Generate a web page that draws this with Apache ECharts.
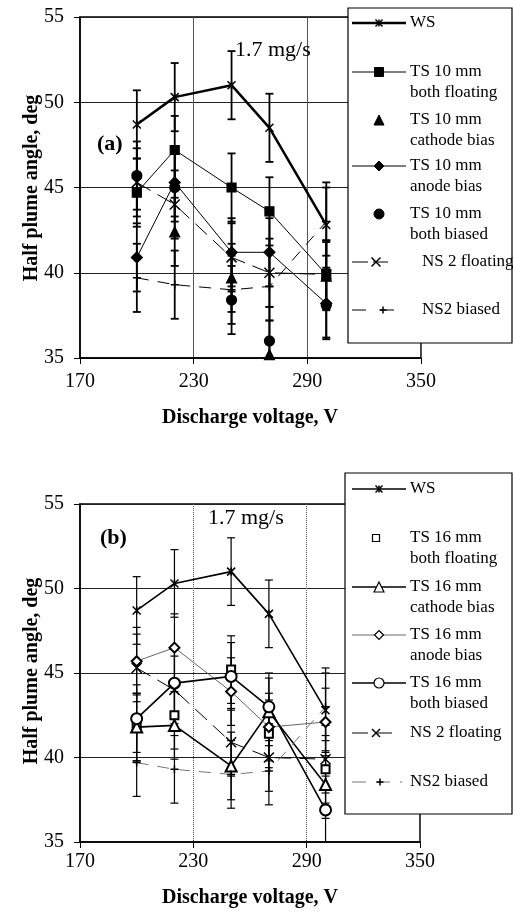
<!DOCTYPE html>
<html>
<head>
<meta charset="utf-8">
<script src="https://cdn.jsdelivr.net/npm/echarts@6/dist/echarts.min.js"></script>
<style>
  html, body { margin: 0; background: #fff; }
  #chart { width: 513px; height: 919px; }
</style>
</head>
<body>
<div id="chart"></div>
<script>
// discharge voltage, V
const voltage = [200, 220, 250, 270, 300];
const xTicks = [170, 230, 290, 350];
const yTicks = [35, 40, 45, 50, 55];

// half plume angle, deg -- shared by both panels
const wsAngle = [48.7, 50.3, 51.0, 48.5, 42.8];
const ns2Floating = [45.3, 44.0, 40.9, 40.0, 39.9];
const ns2Biased = [39.7, 39.3, 39.0, 39.2, 43.0];

// panel (a): TS 10 mm
const ts10Floating = [44.7, 47.2, 45.0, 43.6, 39.9];
const ts10Cathode = [null, 42.4, 39.7, 35.2, 39.8];
const ts10Anode = [40.9, 45.3, 41.2, 41.2, 38.2];
const ts10Biased = [45.7, 45.0, 38.4, 36.0, 38.1];

// panel (b): TS 16 mm
const ts16Floating = [41.8, 42.5, 45.2, 41.4, 39.3];
const ts16Cathode = [41.8, 41.9, 39.5, 42.7, 38.4];
const ts16Anode = [45.7, 46.5, 43.9, 41.8, 42.1];
const ts16Biased = [42.3, 44.4, 44.8, 43.0, 36.9];

// error bar half widths, deg
const wsErr = [2, 2, 2, 2, 2.5];
const stdErr = [2, 2, 2, 2, 2];

const FONT = '"Liberation Serif", "Times New Roman", serif';
const STAR = 'path://M0,0L10,10M10,0L0,10M5,0L5,10';
const CROSS = 'path://M0,0L10,10M10,0L0,10';
const PLUS = 'path://M5,0L5,10M0,5L10,5';

// series styles per panel
const specsA = [
  { name: 'WS', values: wsAngle, err: wsErr, symbol: STAR, size: 8, line: { width: 2.5 } },
  { name: 'TS 10 mm both floating', values: ts10Floating, err: stdErr, symbol: 'rect', size: 9, line: { width: 1 } },
  { name: 'TS 10 mm cathode bias', values: ts10Cathode, err: stdErr, symbol: 'triangle', size: 10, line: null },
  { name: 'TS 10 mm anode bias', values: ts10Anode, err: stdErr, symbol: 'diamond', size: 11, line: { width: 1 } },
  { name: 'TS 10 mm both biased', values: ts10Biased, err: stdErr, symbol: 'circle', size: 10, line: null },
  { name: 'NS 2 floating', values: ns2Floating, err: stdErr, symbol: CROSS, size: 10, line: { width: 1, type: [16, 8] } },
  { name: 'NS2 biased', values: ns2Biased, err: stdErr, symbol: PLUS, size: 8, line: { width: 1, type: [12, 9] } }
];
const specsB = [
  { name: 'WS', values: wsAngle, err: wsErr, symbol: STAR, size: 8, line: { width: 1.6 } },
  { name: 'TS 16 mm both floating', values: ts16Floating, err: stdErr, symbol: 'emptyRect', size: 8, line: null },
  { name: 'TS 16 mm cathode bias', values: ts16Cathode, err: stdErr, symbol: 'emptyTriangle', size: 11, line: { width: 1.6 } },
  { name: 'TS 16 mm anode bias', values: ts16Anode, err: stdErr, symbol: 'emptyDiamond', size: 10, line: { width: 1, color: '#666' } },
  { name: 'TS 16 mm both biased', values: ts16Biased, err: stdErr, symbol: 'emptyCircle', size: 11, line: { width: 1.6 } },
  { name: 'NS 2 floating', values: ns2Floating, err: stdErr, symbol: CROSS, size: 10, line: { width: 1, type: [16, 8] } },
  { name: 'NS2 biased', values: ns2Biased, err: stdErr, symbol: PLUS, size: 8, line: { width: 1, color: '#777', type: [12, 9] } }
];

// error bar with caps
function errorBar(width) {
  return function (params, api) {
    const x = api.value(0);
    const lo = api.coord([x, api.value(1)]);
    const hi = api.coord([x, api.value(2)]);
    const style = { stroke: '#000', lineWidth: width };
    const c = 4;
    return {
      type: 'group',
      children: [
        { type: 'line', shape: { x1: lo[0], y1: lo[1], x2: hi[0], y2: hi[1] }, style },
        { type: 'line', shape: { x1: lo[0] - c, y1: lo[1], x2: lo[0] + c, y2: lo[1] }, style },
        { type: 'line', shape: { x1: hi[0] - c, y1: hi[1], x2: hi[0] + c, y2: hi[1] }, style }
      ]
    };
  };
}

function panelSeries(specs, gi) {
  const out = [];
  specs.forEach(sp => {
    const pts = voltage.map((v, i) => [v, sp.values[i], sp.err[i]]).filter(p => p[1] != null);
    out.push({
      type: 'custom',
      name: sp.name + ' err',
      xAxisIndex: gi,
      yAxisIndex: gi,
      clip: true,
      silent: true,
      z: 1,
      renderItem: errorBar(gi === 0 ? 1.8 : 1.2),
      data: pts.map(p => [p[0], p[1] - p[2], p[1] + p[2]])
    });
    const pathSym = sp.symbol.indexOf('path://') === 0;
    out.push({
      type: 'line',
      name: sp.name,
      xAxisIndex: gi,
      yAxisIndex: gi,
      z: 3,
      data: pts.map(p => [p[0], p[1]]),
      symbol: sp.symbol,
      symbolSize: sp.size,
      showAllSymbol: true,
      animation: false,
      lineStyle: sp.line
        ? { width: sp.line.width, color: sp.line.color || '#000', type: sp.line.type || 'solid' }
        : { opacity: 0 },
      itemStyle: pathSym
        ? { color: '#000', borderColor: '#000', borderWidth: 1.5 }
        : { color: '#000', borderColor: '#000', borderWidth: 1.2 }
    });
  });
  return out;
}

function xAxisFor(gi, margin, splitType) {
  return {
    type: 'value', gridIndex: gi,
    min: xTicks[0], max: xTicks[xTicks.length - 1], interval: xTicks[1] - xTicks[0],
    axisLine: { show: true, lineStyle: { color: '#000', width: 1.5 } },
    axisTick: { show: true, length: 6, lineStyle: { color: '#000' } },
    axisLabel: { color: '#000', fontFamily: FONT, fontSize: 20, margin: margin },
    splitLine: { show: true, lineStyle: { color: '#555', width: 1, type: splitType } }
  };
}
function yAxisFor(gi) {
  return {
    type: 'value', gridIndex: gi,
    min: yTicks[0], max: yTicks[yTicks.length - 1], interval: yTicks[1] - yTicks[0],
    axisLine: { show: true, lineStyle: { color: '#000', width: 1.5 } },
    axisTick: { show: true, length: 6, lineStyle: { color: '#000' } },
    axisLabel: { color: '#000', fontFamily: FONT, fontSize: 20, margin: 16 },
    splitLine: { show: true, lineStyle: { color: '#222', width: 1 } }
  };
}

// legend glyphs drawn as graphics
function glyph(sym, cx, cy, s, open) {
  const h = s / 2;
  const style = { fill: open ? '#fff' : '#000', stroke: '#000', lineWidth: open ? 1.2 : 1 };
  const ls = { stroke: '#000', lineWidth: 1.5 };
  if (sym === 'rect') return [{ type: 'rect', shape: { x: cx - h, y: cy - h, width: s, height: s }, style }];
  if (sym === 'triangle') return [{ type: 'polygon', shape: { points: [[cx, cy - h], [cx + h, cy + h], [cx - h, cy + h]] }, style }];
  if (sym === 'diamond') return [{ type: 'polygon', shape: { points: [[cx, cy - h], [cx + h, cy], [cx, cy + h], [cx - h, cy]] }, style }];
  if (sym === 'circle') return [{ type: 'circle', shape: { cx, cy, r: h }, style }];
  const lines = [];
  if (sym === 'cross' || sym === 'star') {
    lines.push([cx - h, cy - h, cx + h, cy + h], [cx + h, cy - h, cx - h, cy + h]);
  }
  if (sym === 'plus' || sym === 'star') lines.push([cx, cy - h, cx, cy + h]);
  if (sym === 'plus') lines.push([cx - h, cy, cx + h, cy]);
  return lines.map(l => ({ type: 'line', shape: { x1: l[0], y1: l[1], x2: l[2], y2: l[3] }, style: ls }));
}

function legendBlock(box, rows) {
  const els = [{ type: 'rect', shape: box, style: { fill: '#fff', stroke: '#000', lineWidth: 1.2 } }];
  rows.forEach(r => {
    if (r.line) {
      els.push({
        type: 'line', shape: { x1: 352, y1: r.y, x2: r.lx || 406, y2: r.y },
        style: { stroke: r.line.color || '#000', lineWidth: r.line.width, lineDash: r.line.dash || null }
      });
    }
    glyph(r.sym, r.mx || 379, r.y, r.size, r.open).forEach(g => els.push(g));
    r.text.forEach((t, k) => {
      els.push({
        type: 'text', x: r.tx || 410, y: r.y + k * 21,
        style: { text: t, font: '17px ' + FONT, fill: '#000', verticalAlign: 'middle' }
      });
    });
  });
  return els.map(e => Object.assign({ z: 100 }, e));
}

const legendA = legendBlock({ x: 348, y: 8, width: 164, height: 335 }, [
  { y: 23, text: ['WS'], sym: 'star', size: 7, line: { width: 2.5 } },
  { y: 72, text: ['TS 10 mm', 'both floating'], sym: 'rect', size: 9, line: { width: 1 } },
  { y: 120, text: ['TS 10 mm', 'cathode bias'], sym: 'triangle', size: 10 },
  { y: 166, text: ['TS 10 mm', 'anode bias'], sym: 'diamond', size: 10, line: { width: 1 } },
  { y: 214, text: ['TS 10 mm', 'both biased'], sym: 'circle', size: 10 },
  { y: 262, text: ['NS 2 floating'], sym: 'cross', size: 9, mx: 376, tx: 422, lx: 388, line: { width: 1, dash: [16, 5] } },
  { y: 310, text: ['NS2 biased'], sym: 'plus', size: 7, mx: 383, tx: 422, lx: 404, line: { width: 1, dash: [14, 14] } }
]);
const legendB = legendBlock({ x: 345, y: 473, width: 167, height: 341 }, [
  { y: 489, text: ['WS'], sym: 'star', size: 7, line: { width: 1.6 } },
  { y: 538, text: ['TS 16 mm', 'both floating'], sym: 'rect', size: 7, open: true, mx: 376 },
  { y: 587, text: ['TS 16 mm', 'cathode bias'], sym: 'triangle', size: 10, open: true, line: { width: 1.6 } },
  { y: 635, text: ['TS 16 mm', 'anode bias'], sym: 'diamond', size: 9, open: true, line: { width: 1, color: '#666' } },
  { y: 683, text: ['TS 16 mm', 'both biased'], sym: 'circle', size: 10, open: true, line: { width: 1.6 } },
  { y: 733, text: ['NS 2 floating'], sym: 'cross', size: 8, mx: 376, lx: 398, line: { width: 1, dash: [16, 8] } },
  { y: 782, text: ['NS2 biased'], sym: 'plus', size: 7, mx: 380, lx: 402, line: { width: 1, color: '#777', dash: [14, 10] } }
]);

function text(str, x, y, font, align, rotation) {
  return {
    type: 'text', x, y, z: 50, rotation: rotation || 0,
    style: { text: str, font, fill: '#000', align: align || 'left', verticalAlign: 'middle' }
  };
}

const annotations = [
  text('1.7 mg/s', 235, 50, '22px ' + FONT),
  text('(a)', 97, 144, 'bold 22px ' + FONT),
  text('1.7 mg/s', 208, 518, '22px ' + FONT),
  text('(b)', 100, 538, 'bold 22px ' + FONT),
  text('Discharge voltage, V', 250, 418, 'bold 20px ' + FONT, 'center'),
  text('Discharge voltage, V', 250, 898, 'bold 20px ' + FONT, 'center'),
  text('Half plume angle, deg', 32, 188, 'bold 20px ' + FONT, 'center', Math.PI / 2),
  text('Half plume angle, deg', 32, 671, 'bold 20px ' + FONT, 'center', Math.PI / 2)
];

const chart = echarts.init(document.getElementById('chart'));
chart.setOption({
  animation: false,
  backgroundColor: '#fff',
  grid: [
    { left: 80, top: 17, width: 341, height: 341, show: true, borderColor: '#000', borderWidth: 1.5 },
    { left: 80, top: 504, width: 340, height: 338, show: true, borderColor: '#000', borderWidth: 1.5 }
  ],
  xAxis: [xAxisFor(0, 14, 'solid'), xAxisFor(1, 10, 'dotted')],
  yAxis: [yAxisFor(0), yAxisFor(1)],
  series: panelSeries(specsA, 0).concat(panelSeries(specsB, 1)),
  graphic: annotations.concat(legendA, legendB)
});
</script>
</body>
</html>
